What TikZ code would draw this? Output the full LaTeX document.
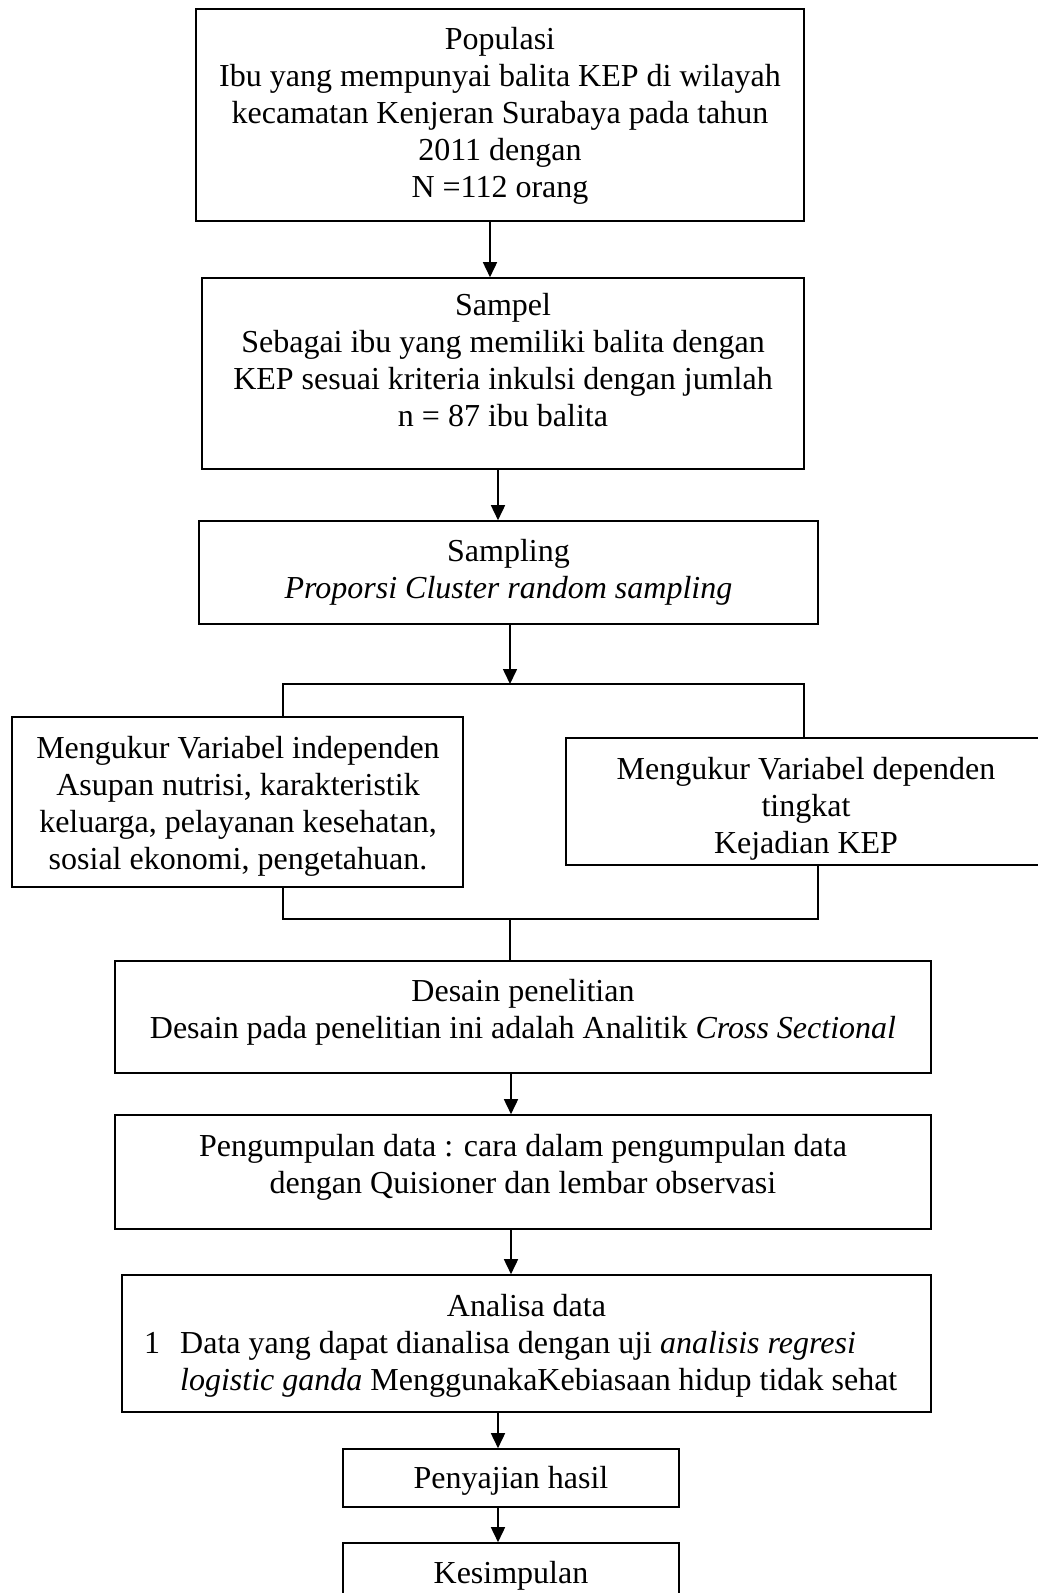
\documentclass[tikz,border=0pt]{standalone}
\usepackage{fontspec}
\setmainfont{Liberation Serif}
\usetikzlibrary{arrows.meta}
\newcommand{\mystrut}{\rule{0pt}{29pt}}
\begin{document}
\begin{tikzpicture}[x=1pt,y=-1pt,
  box/.style={draw, line width=1.6pt, inner sep=0pt},
  txt/.style={anchor=north, inner sep=0pt, align=center, font=\fontsize{32}{37}\selectfont},
  ln/.style={line width=1.6pt},
  arr/.style={line width=1.6pt, -{Triangle[width=14pt,length=15pt]}}]
\useasboundingbox (0,0) rectangle (1038,1593);
\clip (0,0) rectangle (1038,1593);
\fill[white] (0,0) rectangle (1038,1593);
% boxes
\node[box, minimum width=608pt, minimum height=212pt] (b1) at (500,115) {};
\node[box, minimum width=602pt, minimum height=191pt] (b2) at (503,373.5) {};
\node[box, minimum width=619pt, minimum height=103pt] (b3) at (508.5,572.5) {};
\node[box, minimum width=451pt, minimum height=170pt] (bl) at (237.5,802) {};
\node[box, minimum width=480pt, minimum height=127pt] (br) at (806,801.5) {};
\node[box, minimum width=816pt, minimum height=112pt] (b4) at (523,1017) {};
\node[box, minimum width=816pt, minimum height=114pt] (b5) at (523,1172) {};
\node[box, minimum width=809pt, minimum height=137pt] (b6) at (526.5,1343.5) {};
\node[box, minimum width=336pt, minimum height=58pt] (b7) at (511,1478) {};
\node[box, minimum width=336pt, minimum height=77pt] (b8) at (511,1581.5) {};
% texts
\node[txt] (t1) at (500,20) {\mystrut Populasi\\Ibu yang mempunyai balita KEP di wilayah\\kecamatan Kenjeran Surabaya pada tahun\\2011 dengan\\N =112 orang};
\node[txt] (t2) at (503,286) {\mystrut Sampel\\Sebagai ibu yang memiliki balita dengan\\KEP sesuai kriteria inkulsi dengan jumlah\\n = 87 ibu balita};
\node[txt] (t3) at (508.5,532) {\mystrut Sampling\\\textit{Proporsi Cluster random sampling}};
\node[txt] (tl) at (238,729) {\mystrut Mengukur Variabel independen\\Asupan nutrisi, karakteristik\\keluarga, pelayanan kesehatan,\\sosial ekonomi, pengetahuan.};
\node[txt] (tr) at (806,750) {\mystrut Mengukur Variabel dependen\\tingkat\\Kejadian KEP};
\node[txt] (t4) at (523,972) {\mystrut Desain penelitian\\Desain pada penelitian ini adalah Analitik \textit{Cross Sectional}};
\node[txt] (t5) at (523,1127) {\mystrut Pengumpulan data : cara dalam pengumpulan data\\dengan Quisioner dan lembar observasi};
\node[txt] (t6) at (526.5,1287) {\mystrut Analisa data};
\node[txt, anchor=north west, align=left] (t6b) at (144,1324) {\mystrut\makebox[36pt][l]{1}Data yang dapat dianalisa dengan uji \textit{analisis regresi}\\\hspace*{36pt}\textit{logistic ganda} MenggunakaKebiasaan hidup tidak sehat};
\node[txt] (t7) at (511,1459) {\mystrut Penyajian hasil};
\node[txt] (t8) at (511,1554) {\mystrut Kesimpulan};
% columns
\coordinate (c1) at (490,0);
\coordinate (c2) at (498,0);
\coordinate (c4) at (511,0);
\coordinate (c5) at (498,0);
\coordinate (sp) at (510,684);
\coordinate (spl) at (283,684);
\coordinate (spr) at (804,684);
\coordinate (jl) at (283,919);
\coordinate (jr) at (818,919);
\coordinate (jm) at (510,919);
% connectors
\draw[arr] (b1.south -| c1) -- (b2.north -| c1);
\draw[arr] (b2.south -| c2) -- (b3.north -| c2);
\draw[arr] (b3.south -| sp) -- (sp);
\draw[ln] (bl.north -| spl) -- (spl) -- (spr) -- (br.north -| spr);
\draw[ln] (bl.south -| jl) -- (jl) -- (jr) -- (br.south -| jr);
\draw[ln] (jm) -- (b4.north -| jm);
\draw[arr] (b4.south -| c4) -- (b5.north -| c4);
\draw[arr] (b5.south -| c4) -- (b6.north -| c4);
\draw[arr] (b6.south -| c5) -- (b7.north -| c5);
\draw[arr] (b7.south -| c5) -- (b8.north -| c5);
\end{tikzpicture}
\end{document}
